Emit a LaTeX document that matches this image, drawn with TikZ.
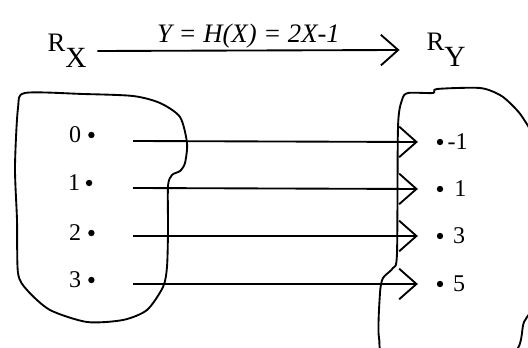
\documentclass[tikz,border=0pt]{standalone}
\usepackage{fontspec}
\setmainfont{Liberation Serif}
\usepackage{tikz}
\usetikzlibrary{arrows.meta, positioning}

\begin{document}
\begin{tikzpicture}[
    x=0.75pt, y=-0.75pt,
    point/.style={inner sep=0pt, font=\fontsize{18}{21}\selectfont},
    dot/.style={circle, fill, inner sep=0pt, minimum size=4.8pt},
    setname/.style={inner sep=0pt, font=\fontsize{20}{23}\selectfont},
    blob/.style={line width=1.4pt, line join=round},
    arrow/.style={line width=1.4pt, -{Straight Barb[length=13pt, width=23pt, line width=1.4pt]}}
]
    \clip (0,0) rectangle (528,348);

    % the two sets
    \draw[blob] plot[smooth cycle, tension=0.45] coordinates {
        (25,93) (83,94) (133,96) (160,103) (180,117) (187,143) (185,163)
        (180,171) (172,175) (168,186) (168,230) (167,267) (163,287)
        (147,310) (123,320) (87,322) (50,310) (27,290) (18,273) (17,220)
        (15,167) (18,108)};
    \draw[blob] plot[smooth cycle, tension=0.45] coordinates {
        (402,100) (408,93) (433,93) (437,89) (480,88) (500,95) (512,105)
        (523,118) (536,145) (545,220) (535,300) (524,322) (508,356)
        (392,356) (379,338) (380,293) (383,278) (393,268) (397,253) (398,127)};

    \node[setname] (rx) at (67,51) {R\raisebox{-12pt}{\fontsize{22}{24}\selectfont X}};
    \node[setname] (ry) at (446,50) {R\raisebox{-12pt}{\fontsize{22}{24}\selectfont Y}};

    % elements of R_X
    \node[point] (x0) at (75,135) {0};
    \node[point] (x1) at (74,183) {1};
    \node[point] (x2) at (75,233) {2};
    \node[point] (x3) at (75,280) {3};
    \node[dot, right=5pt of x0] (dx0) {};
    \node[dot, right=4pt of x1] (dx1) {};
    \node[dot, right=5pt of x2] (dx2) {};
    \node[dot, right=5pt of x3] (dx3) {};

    % elements of R_Y
    \node[dot] (dy0) at (440,142) {};
    \node[dot] (dy1) at (440,189) {};
    \node[dot] (dy2) at (440,236) {};
    \node[dot] (dy3) at (440,284) {};
    \node[point, right=3pt of dy0] (y0) {-1};
    \node[point, right=8pt of dy1] (y1) {1};
    \node[point, right=7pt of dy2] (y2) {3};
    \node[point, right=7pt of dy3] (y3) {5};

    \coordinate (s0) at (133,141);
    \coordinate (s1) at (133,188);
    \coordinate (s2) at (133,236);
    \coordinate (s3) at (133,284);

    \draw[arrow] ([xshift=8pt]rx.east) -- node[above=-2pt, font=\fontsize{20}{23}\selectfont\itshape] (hx) {Y = H(X) = 2X-1} ([xshift=-20pt]ry.west);

    \draw[arrow] (s0) -- ([xshift=-14pt]dy0.west);
    \draw[arrow] (s1) -- ([xshift=-14pt]dy1.west);
    \draw[arrow] (s2) -- ([xshift=-14pt]dy2.west);
    \draw[arrow] (s3) -- ([xshift=-14pt]dy3.west);
\end{tikzpicture}
\end{document}
